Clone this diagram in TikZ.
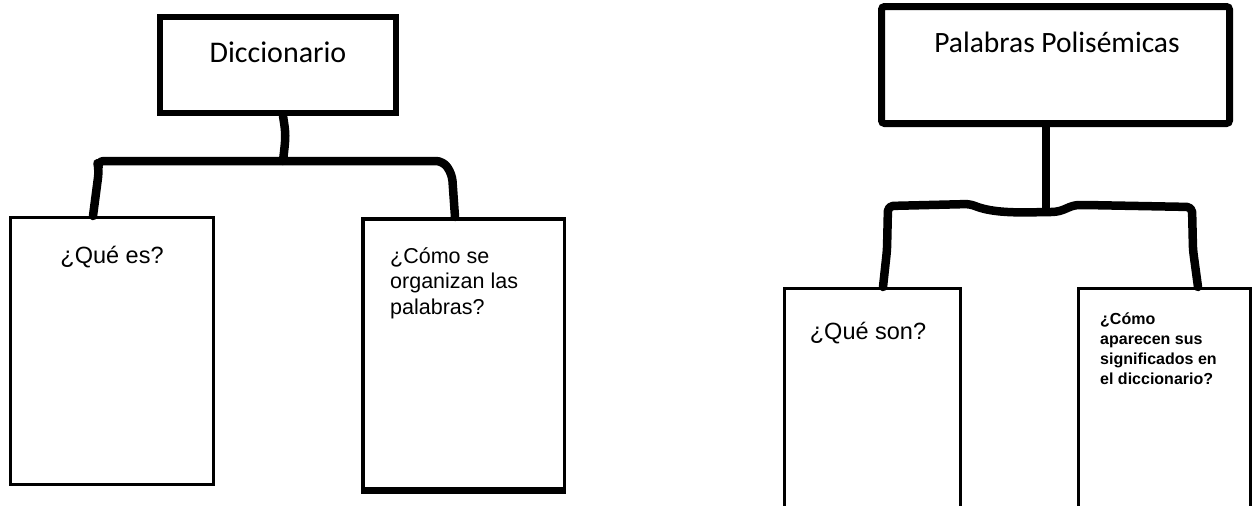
\documentclass[tikz,border=0pt]{standalone}
\usepackage{fontspec}
\setmainfont{Liberation Sans}
\newfontfamily\calib{Carlito}
\begin{document}
\begin{tikzpicture}[x=1pt,y=-1pt,
  topbox/.style={draw, inner sep=0pt, fill=white},
  qbox/.style={draw, line width=3pt, inner sep=0pt},
  conn/.style={line width=8.5pt, line cap=round, line join=round},
  title/.style={font=\calib\fontsize{30}{36}\selectfont, inner sep=0pt},
  qtext/.style={font=\fontsize{23.5}{28}\selectfont, inner sep=0pt},
  qtextb/.style={font=\fontsize{21.5}{25.5}\selectfont, inner sep=0pt, align=left, anchor=base west},
  qtextbold/.style={font=\bfseries\fontsize{16}{20.2}\selectfont, inner sep=0pt, align=left, anchor=base west},
]
\useasboundingbox (0,0) rectangle (1253,506);
\clip (0,0) rectangle (1253,506);

% ---------- left diagram ----------
\node[topbox, line width=6pt, minimum width=236pt, minimum height=96pt] (d) at (278,65) {};
\node[title] (dt) at (278,52) {Diccionario};

\node[qbox, minimum width=203pt, minimum height=267pt] (q1) at (112,351) {};
\node[qtext] (q1t) at (112,257) {¿Qué es?};

\node[qbox, line width=3.5pt, minimum width=201.5pt, minimum height=269.5pt] (q2) at (463.5,353.5) {};
\draw[line width=5pt] ([yshift=-1pt]q2.south west) -- ([yshift=-1pt]q2.south east);
\node[qtextb] (q2t) at (390,314) {¿Cómo se\\organizan las\\palabras?};

\coordinate (jd) at (283,161);
\draw[conn] (d.south -| jd) .. controls (286,135) .. (jd);
\draw[conn, rounded corners=7pt] ([xshift=-19pt]q1.north) -- (99,170) -- (97,161) -- (443,161) -- (452,174) -- ([xshift=-8.5pt]q2.north);

% ---------- right diagram ----------
\node[topbox, line width=7pt, rounded corners=3pt, minimum width=348pt, minimum height=117pt] (p) at (1055.5,65) {};
\node[title, font=\calib\fontsize{29.5}{35}\selectfont] (ptx) at (1057,42) {Palabras Polisémicas};

\node[qbox, minimum width=176pt, minimum height=271.5pt] (r1) at (872.5,424.25) {};
\node[qtext] (r1t) at (868,333) {¿Qué son?};

\node[qbox, minimum width=172pt, minimum height=271.5pt] (r2) at (1164.5,424.25) {};
\node[qtextbold] (r2t) at (1100,384.6) {¿Cómo\\aparecen sus\\significados en\\el diccionario?};

\coordinate (jp) at (1046,211);
\draw[conn] (p.south -| jp) -- (jp);
\draw[conn, rounded corners=5pt] ([xshift=10.5pt]r1.north) -- (887,250) -- (888,206) -- (970,204)
  .. controls (990,212) and (1010,213) .. (1046,212)
  .. controls (1065,212) and (1068,205) .. (1085,205) -- (1192,207) -- (1193,250)
  -- ([xshift=33.5pt]r2.north);
\end{tikzpicture}
\end{document}
